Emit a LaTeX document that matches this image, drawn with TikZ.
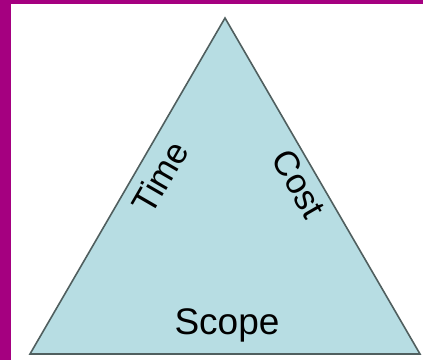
\documentclass[tikz,border=0pt]{standalone}
\usepackage{fontspec}
\setmainfont{Liberation Sans}
\usetikzlibrary{positioning}
\definecolor{framepurple}{RGB}{165,0,128}
\definecolor{trifill}{RGB}{183,221,227}
\definecolor{triline}{RGB}{80,95,95}

\begin{document}
\begin{tikzpicture}[x=1pt, y=-1pt,
    side/.style={font=\fontsize{35}{35}\selectfont, inner sep=0pt},
    base/.style={font=\fontsize{37}{37}\selectfont, inner sep=0pt},
]
  \useasboundingbox (0,0) rectangle (423,360);
  % purple frame, top and left
  \fill[framepurple] (0,0) rectangle (423,4);
  \fill[framepurple] (0,0) rectangle (11,360);

  % the triangle
  \coordinate (apex) at (225,18);
  \coordinate (bl) at (30,354);
  \coordinate (br) at (420,354);
  \draw[fill=trifill, draw=triline, line width=1.6pt] (apex) -- (bl) -- (br) -- cycle;

  \node[side, rotate=60] (time) at (160,177) {Time};
  \node[side, rotate=-60] (cost) at (299,184) {Cost};
  \node[base] (scope) at (227,325) {Scope};
\end{tikzpicture}
\end{document}
